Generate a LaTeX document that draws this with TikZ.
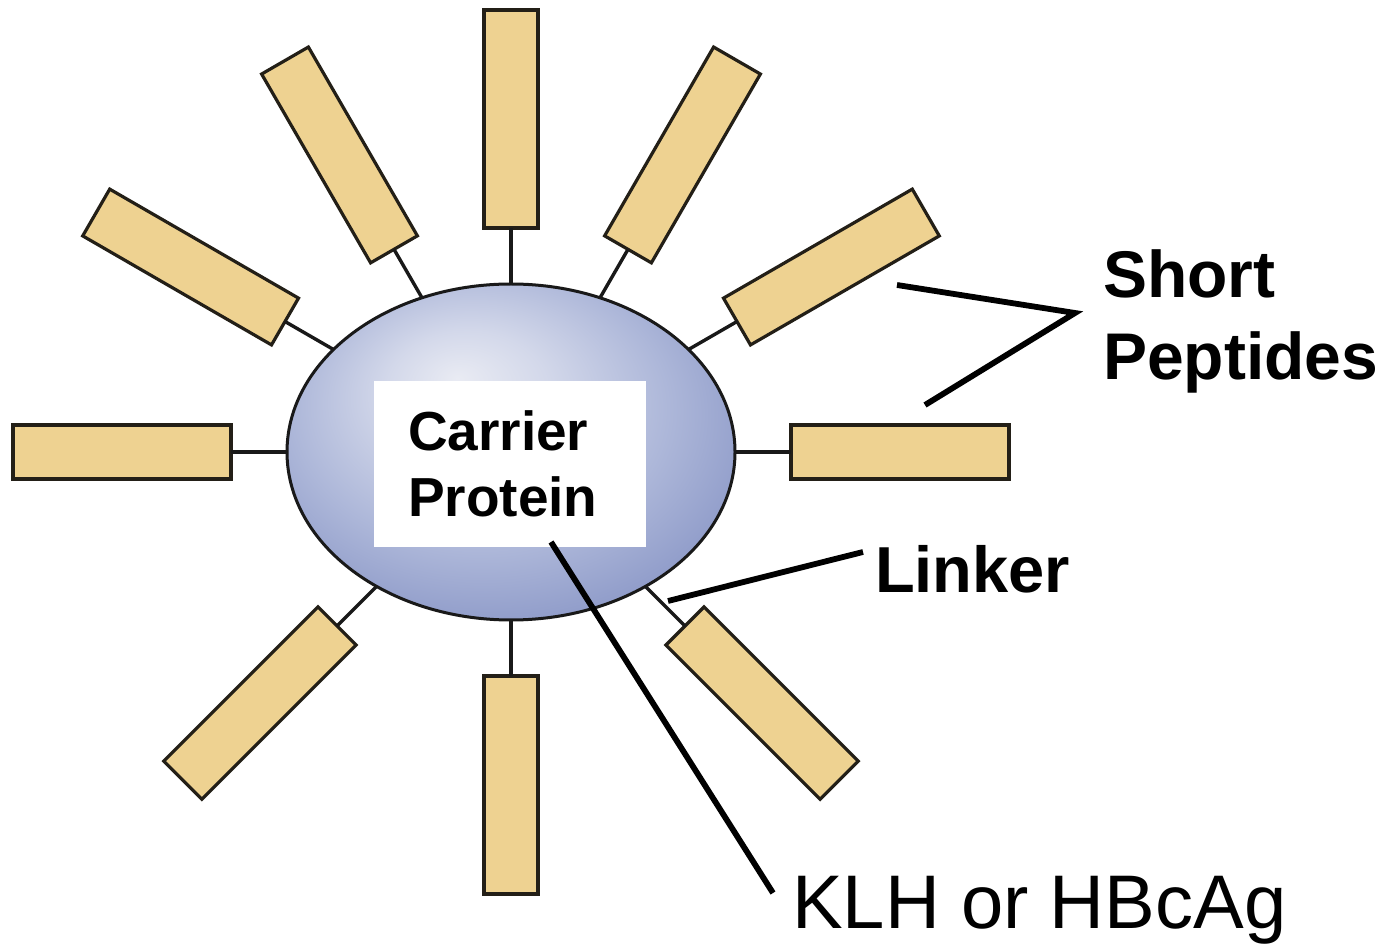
\documentclass[tikz,border=0pt]{standalone}
\usepackage{fontspec}
\setmainfont{Liberation Sans}
\usetikzlibrary{shapes.geometric,calc}
\definecolor{pepfill}{HTML}{EED291}
\definecolor{pepline}{HTML}{231F17}
\definecolor{spotc}{HTML}{E9EBF3}
\definecolor{ctwo}{HTML}{D3D8EA}
\definecolor{cthree}{HTML}{ADB7D9}
\definecolor{edgec}{HTML}{8794C5}
\pgfdeclareradialshading{carrier}{\pgfpoint{-6bp}{11bp}}{color(0bp)=(spotc); color(9bp)=(ctwo); color(21bp)=(cthree); color(33bp)=(edgec); color(50bp)=(edgec)}
\begin{document}
\begin{tikzpicture}[x=1pt,y=1pt,
  pep/.style={draw=pepline, fill=pepfill, line width=3.2pt, minimum width=218pt, minimum height=54pt, inner sep=0pt, outer sep=0pt},
  link/.style={line width=3.4pt, draw=black!90},
  callout/.style={line width=5.8pt, draw=black},
  boldlabel/.style={inner sep=0pt, anchor=base west, font=\bfseries\fontsize{66}{82}\selectfont, align=left}]
\useasboundingbox[fill=white] (0,0) rectangle (1388,943);
\node[ellipse, draw=black!90, line width=3pt, shading=carrier, minimum width=448pt, minimum height=336pt, inner sep=0pt, outer sep=0pt] (e) at (511,491) {};
\foreach \a/\n in {0/1,30/2,60/3,90/4,120/5,150/6,180/7,225/8,270/9,315/10}{
  \node[pep, rotate=\a] (p\n) at ($(e.\a)+(\a:165pt)$) {};
  \draw[link] (e.\a) -- (p\n.west);
}
\node[fill=white, minimum width=272pt, minimum height=166pt, text width=204pt, inner xsep=34pt, inner ysep=0pt, align=left, font=\bfseries\fontsize{55}{66}\selectfont] (cp) at (510,479) {Carrier\\Protein};
\node[boldlabel] (sp) at (1103,563) {Short\\Peptides};
\node[boldlabel, font=\bfseries\fontsize{65}{78}\selectfont] (lk) at (875,351) {Linker};
\node[inner sep=0pt, anchor=base west, font=\fontsize{76}{90}\selectfont] (kl) at (792,15) {KLH or HBcAg};
\coordinate (spA) at (897,658);
\coordinate (spB) at (925,538);
\coordinate (spJ) at (1075,630);
\draw[callout] (spA) -- (spJ) -- (spB);
\coordinate (lkA) at (668,342);
\coordinate (lkB) at (863,391);
\draw[callout] (lkA) -- (lkB);
\coordinate (klA) at (551,401);
\coordinate (klB) at (773,50);
\draw[callout] (klA) -- (klB);
\end{tikzpicture}
\end{document}
